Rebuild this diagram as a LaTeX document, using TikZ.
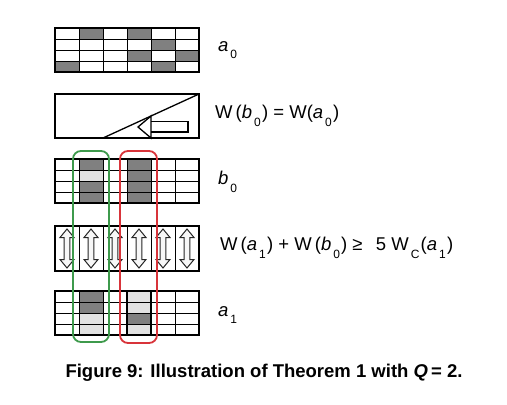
\documentclass[tikz,border=0pt]{standalone}
\usepackage{fontspec}
\setmainfont{Liberation Sans}
\usepackage{tikz}
\usetikzlibrary{calc}

\definecolor{cellDark}{HTML}{808080}
\definecolor{cellLight}{HTML}{E2E2E2}
\definecolor{loopGreen}{HTML}{3E9A4C}
\definecolor{loopRed}{HTML}{D8343A}

\newcommand{\lsub}[1]{\kern2pt\raisebox{-0.8ex}{\fontsize{12}{12}\selectfont #1}\kern1.2pt}

\tikzset{
  gridline/.style={draw=black, line width=0.9pt},
  outerbox/.style={draw=black, line width=1.8pt},
  darkcell/.style={fill=cellDark},
  lightcell/.style={fill=cellLight},
  dblarrow/.style={draw=black!85, fill=gray!6, line width=1pt, line join=miter},
  loopline/.style={line width=1.8pt, rounded corners=8pt},
  lbl/.style={anchor=west, inner sep=0pt, font=\fontsize{18.5}{20}\selectfont}
}

% cell (#2,#3) of the grid whose top edge is at y=#1
\newcommand{\gcell}[4]{%
  \fill[#4] ({55+24*(#2-1)},{#1+11*(#3-1)}) rectangle ({55+24*#2},{#1+11*#3});}
% 6x4 grid whose top edge is at y=#1
\newcommand{\ggrid}[1]{%
  \foreach \c in {1,...,5} \draw[gridline] ({55+24*\c},#1) -- ({55+24*\c},{#1+44});
  \foreach \r in {1,2,3} \draw[gridline] (55,{#1+11*\r}) -- (199,{#1+11*\r});
  \draw[outerbox] (55,#1) rectangle (199,{#1+44});}

\begin{document}
\begin{tikzpicture}[x=1pt, y=-1pt]
    \useasboundingbox (0,0) rectangle (507,405);

    % a_0
    \gcell{28}{2}{1}{darkcell} \gcell{28}{4}{1}{darkcell}
    \gcell{28}{5}{2}{darkcell}
    \gcell{28}{4}{3}{darkcell} \gcell{28}{6}{3}{darkcell}
    \gcell{28}{1}{4}{darkcell} \gcell{28}{5}{4}{darkcell}
    \ggrid{28}
    \node[lbl] (la0) at (218,50) {\textit{a}\lsub{0}};

    % weight box
    \coordinate (WTL) at (55,94);
    \coordinate (WBR) at (199,138);
    \coordinate (WD) at (103,138);
    \coordinate (Tip) at (138,127);
    \draw[outerbox] (WTL) rectangle (WBR);
    \draw[line width=1.3pt] (WD) -- (199,94);
    \draw[line width=1.3pt, line join=miter]
      (151,138) -- (Tip) -- (151,116) -- cycle;
    \draw[line width=1.3pt, line join=miter]
      (151,121.5) -- (188,121.5) -- (188,132) -- (151,132);
    \node[lbl] (lwb) at (215,116) {W\,(\textit{b}\lsub{0}) = W(\textit{a}\lsub{0})};

    % b_0
    \gcell{159}{2}{1}{darkcell} \gcell{159}{2}{2}{lightcell}
    \gcell{159}{2}{3}{darkcell} \gcell{159}{2}{4}{darkcell}
    \foreach \r in {1,...,4} {\gcell{159}{4}{\r}{darkcell}}
    \ggrid{159}
    \node[lbl] (lb0) at (218,182) {\textit{b}\lsub{0}};

    % swap box
    \draw[outerbox] (55,226) rectangle (199,271);
    \foreach \c in {1,...,5} \draw[gridline] ({55+24*\c},226) -- ({55+24*\c},271);
    \foreach \c in {1,...,6} {
      \pgfmathsetmacro{\cx}{55+24*(\c-0.5)}
      \draw[dblarrow] (\cx,229) -- ({\cx+7},237.5) -- ({\cx+2.8},237.5)
        -- ({\cx+2.8},259.5) -- ({\cx+7},259.5) -- (\cx,268)
        -- ({\cx-7},259.5) -- ({\cx-2.8},259.5) -- ({\cx-2.8},237.5)
        -- ({\cx-7},237.5) -- cycle;
    }
    \node[lbl] (lsum) at (220,248)
      {W\,(\textit{a}\lsub{1}) + W\,(\textit{b}\lsub{0}) ≥ \;\,5 W\lsub{C}(\textit{a}\lsub{1})};

    % a_1
    \gcell{291}{2}{1}{darkcell} \gcell{291}{2}{2}{darkcell}
    \gcell{291}{2}{3}{lightcell} \gcell{291}{2}{4}{lightcell}
    \gcell{291}{4}{1}{lightcell} \gcell{291}{4}{2}{lightcell}
    \gcell{291}{4}{3}{darkcell} \gcell{291}{4}{4}{lightcell}
    \ggrid{291}
    \draw[outerbox] (127,291) rectangle (151,335);
    \node[lbl] (la1) at (218,315) {\textit{a}\lsub{1}};

    % column loops
    \draw[loopline, loopGreen] (73,151) rectangle (109,342);
    \draw[loopline, loopRed] (120,151) rectangle (157,343);

    \node[font=\bfseries\fontsize{18.5}{20}\selectfont, inner sep=0pt] (cap) at (264,373)
      {Figure 9: Illustration of Theorem 1 with \textit{Q}\,= 2.};
\end{tikzpicture}
\end{document}
